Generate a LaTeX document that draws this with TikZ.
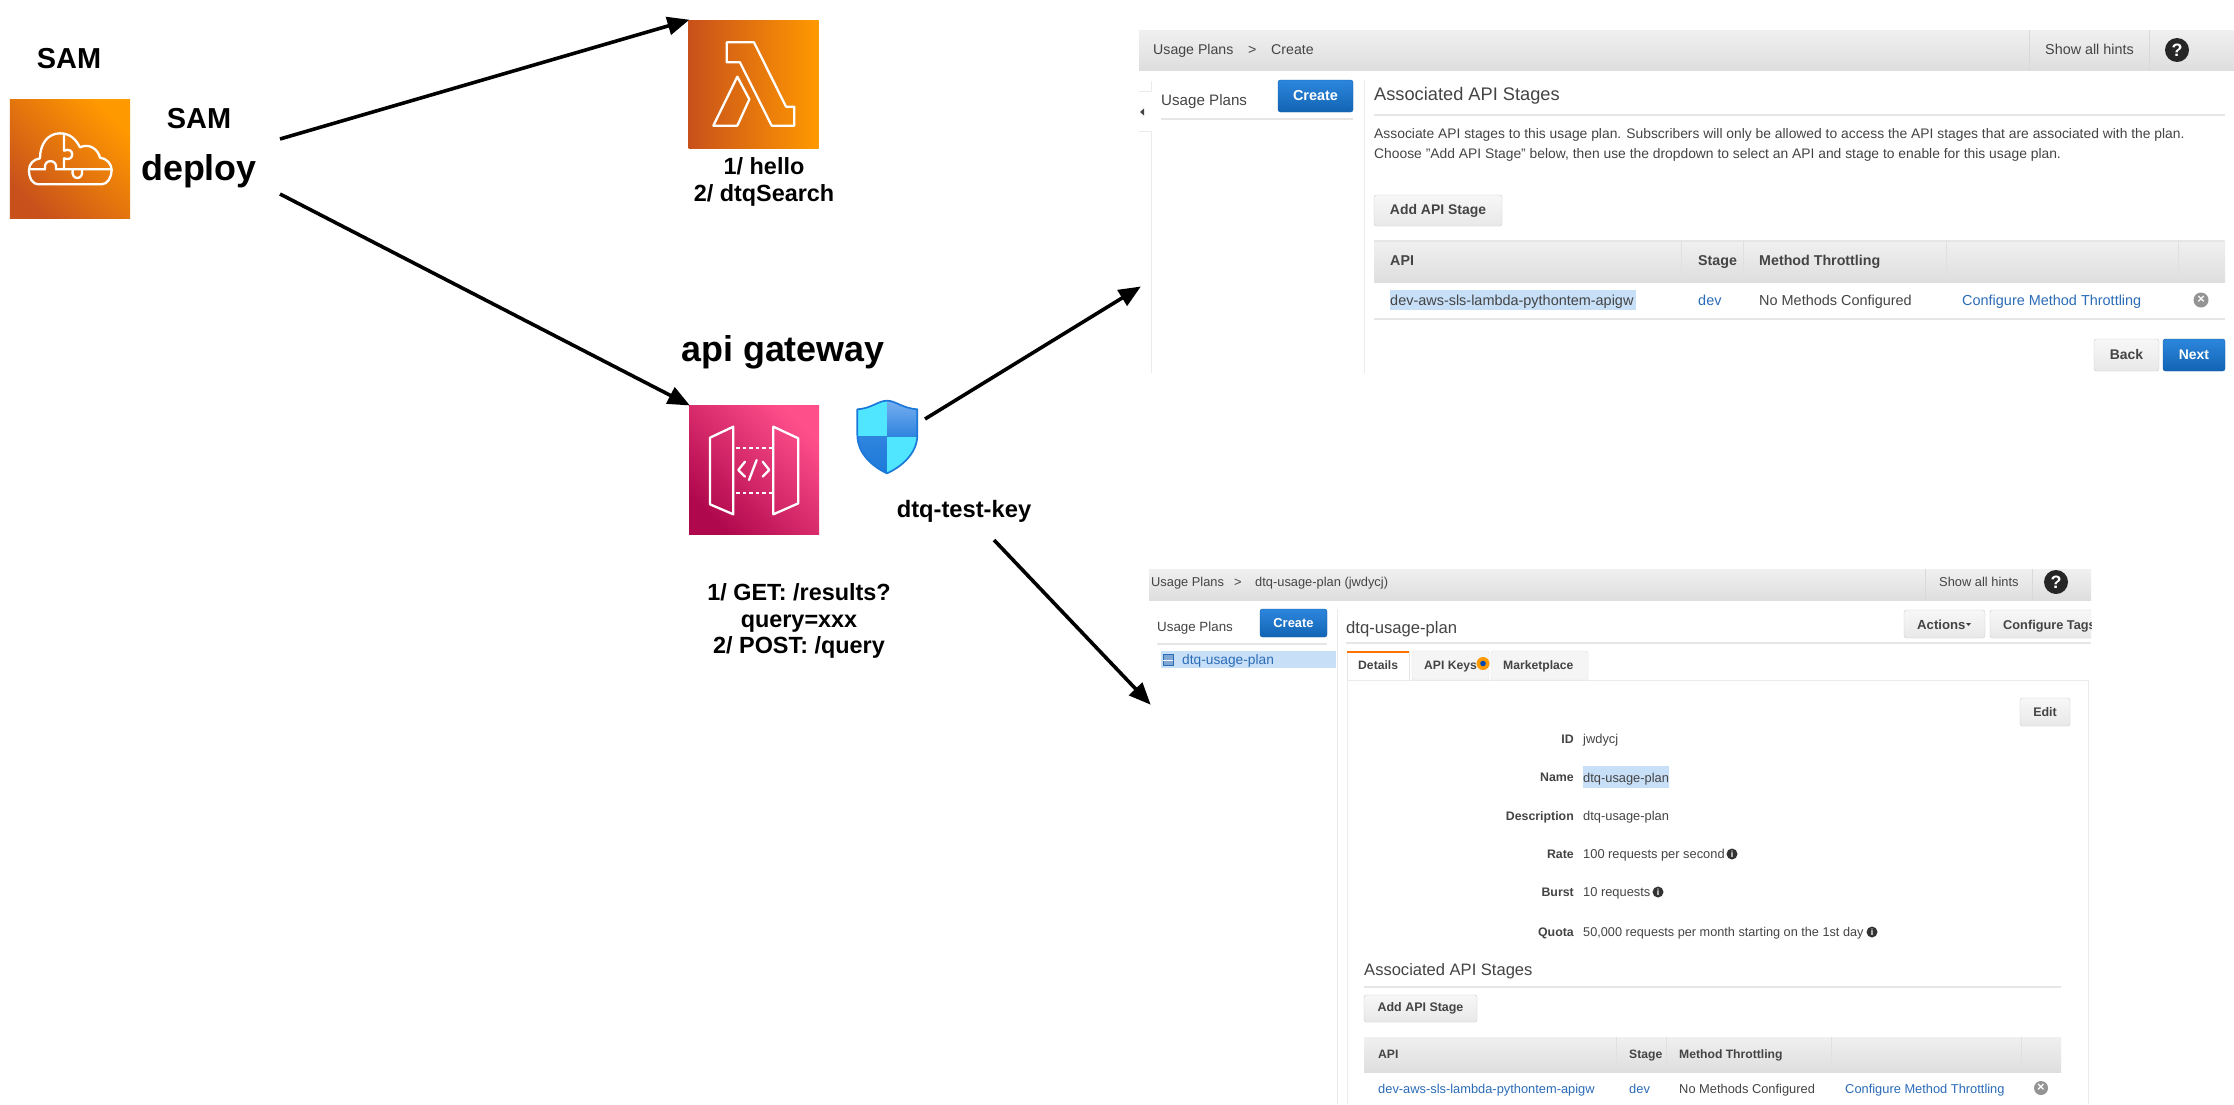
\documentclass[tikz,border=0pt]{standalone}
\usepackage{fontspec}
\setmainfont{Liberation Sans}
\usetikzlibrary{arrows.meta,shadings}
\definecolor{uitx}{HTML}{444444}
\definecolor{uilink}{HTML}{2B6CB8}
\definecolor{uirule}{HTML}{E6E6E6}
\definecolor{uiline}{HTML}{EBEBEB}
\definecolor{uisel}{HTML}{C8DFF8}
\definecolor{hdtop}{HTML}{F0F0F0}
\definecolor{hdbot}{HTML}{DEDEDE}
\definecolor{awsdark}{HTML}{C8511B}
\definecolor{awslight}{HTML}{FF9900}
\definecolor{apidark}{HTML}{B0084D}
\definecolor{apilight}{HTML}{FF4F8B}
\definecolor{shcyan}{HTML}{50E6FF}
\definecolor{shblue}{HTML}{1B78D8}
\definecolor{shmid}{HTML}{5EA0EF}
\definecolor{bluetop}{HTML}{2C86DC}
\definecolor{bluebot}{HTML}{1264B4}
\definecolor{blueedge}{HTML}{0F5AA5}
\tikzset{
  diaglabel/.style={font=\bfseries\fontsize{#1}{#1}\selectfont,align=center,inner sep=0,text=black},
  multilabel/.style={font=\bfseries\fontsize{23.5}{26.5}\selectfont,align=center,inner sep=0,text=black},
  ui/.style={anchor=west,inner sep=0,yshift=-1bp,text=uitx,text height=10,text depth=3,font=\fontsize{#1}{15}\selectfont},
  ui/.default=14.5,
  uismall/.style={ui,font=\fontsize{#1}{14}\selectfont},
  uismall/.default=12.9,
  uibold/.style={ui,font=\bfseries\fontsize{14.3}{15}\selectfont},
  uiboldsmall/.style={ui,font=\bfseries\fontsize{12.2}{14}\selectfont},
  uititle/.style={ui,yshift=-1bp,font=\fontsize{#1}{#1}\selectfont,text height=13,text depth=4},
  rowlabel/.style={ui,anchor=east,font=\bfseries\fontsize{12.4}{14}\selectfont},
  link/.style={text=uilink},
  bar/.style={top color=hdtop,bottom color=hdbot},
  sep/.style={draw=#1,line width=1},
  sep/.default=uiline,
  rulethick/.style={draw=uirule,line width=1.6},
  btn/.style={rectangle,rounded corners=2.5,draw=black!20,top color=black!3,bottom color=black!9,
    inner sep=0,text=uitx,font=\bfseries\fontsize{#1}{15}\selectfont},
  btnblue/.style={rectangle,rounded corners=2.5,draw=blueedge,top color=bluetop,bottom color=bluebot,
    inner sep=0,text=white,font=\bfseries\fontsize{#1}{15}\selectfont},
  helpmark/.style={circle,fill=black!85,text=white,inner sep=0,minimum size=24bp,font=\bfseries\fontsize{18}{18}\selectfont},
  infomark/.style={circle,fill=black!80,text=white,inner sep=0,minimum size=11bp,font=\bfseries\fontsize{9}{9}\selectfont},
  closemark/.style={circle,fill=black!42,text=white,inner sep=0,minimum size=15bp,font=\bfseries\fontsize{13}{13}\selectfont},
  awsicon/.style={rectangle,inner sep=0,outer sep=0,minimum width=#1},
  iconline/.style={draw=white,line width=2.3,line join=round,line cap=round},
  conn/.style={draw=black,line width=3.6,-{Triangle[length=22bp,width=18bp]},shorten >=-1bp},
}
\begin{document}
\begin{tikzpicture}[x=1bp,y=-1bp]
\useasboundingbox (0,0) rectangle (2234,1104);
\fill[white] (0,0) rectangle (2234,1104);

% ---- left diagram ----
\node[diaglabel=29] (samtitle) at (69,59) {SAM};
\node[awsicon=120bp,minimum height=119bp,left color=awsdark,right color=awslight,shading angle=135] (samicon) at (70,158.5) {};
\begin{scope}[shift={(0,90)},scale=1/3]
 \draw[iconline] (115,283) -- (305,283) .. controls (322,283) and (335,262) .. (335,240) .. controls (335,222) and (320,205) .. (300,203)
   .. controls (295,180) and (270,158) .. (240,172) .. controls (228,148) and (210,130) .. (180,130) .. controls (145,130) and (120,160) .. (120,205)
   .. controls (100,208) and (87,222) .. (87,240) .. controls (87,265) and (98,283) .. (115,283);
 \draw[iconline] (87,238) -- (135,238) .. controls (128,205) and (175,205) .. (168,238) -- (335,238);
 \draw[iconline] (218,240) .. controls (212,272) and (252,272) .. (246,240);
 \draw[iconline] (192,132) -- (192,182) .. controls (225,168) and (225,218) .. (192,205) -- (192,238);
\end{scope}
\node[diaglabel=29] (samdeploya) at (199,119) {SAM};
\node[diaglabel=36] (samdeployb) at (199,171) {deploy};

\node[awsicon=130bp,minimum height=128bp,left color=awsdark,right color=awslight] (lambda) at (753.5,84) {};
\begin{scope}[shift={(680,10)},scale=1/3]
 \draw[iconline] (140,97) -- (222,97) -- (318,290) -- (343,290) -- (343,347) -- (275,347) -- (180,157) -- (140,157) -- cycle;
 \draw[iconline] (172,200) -- (208,268) -- (172,347) -- (100,347) -- cycle;
\end{scope}
\node[multilabel] (lambdatext) at (764,182) {1/ hello\\2/ dtqSearch};

\node[diaglabel=36] (apititle) at (783,352) {api gateway};
\node[awsicon=130bp,minimum height=129bp,left color=apidark,right color=apilight,shading angle=135] (apigw) at (754,469.5) {};
\begin{scope}[shift={(680,395)},scale=1/3]
 \draw[iconline] (160,95) -- (90,128) -- (90,328) -- (160,358) -- cycle;
 \draw[iconline] (280,95) -- (355,130) -- (355,325) -- (280,358) -- cycle;
 \draw[iconline,dash pattern=on 3.5bp off 3bp,line cap=butt] (168,158) -- (275,158);
 \draw[iconline,dash pattern=on 3.5bp off 3bp,line cap=butt] (168,295) -- (275,295);
 \draw[iconline] (195,200) -- (175,225) -- (195,245);
 \draw[iconline] (248,200) -- (268,225) -- (248,245);
 \draw[iconline] (230,195) -- (207,255);
\end{scope}
\node[multilabel] (apitext) at (799,621) {1/ GET: /results?\\query=xxx\\2/ POST: /query};

% shield
\begin{scope}[shift={(840,390)},scale=1/3]
 \begin{scope}
  \clip (52,58) .. controls (95,55) and (115,32) .. (141,32) .. controls (167,32) and (187,55) .. (232,58) -- (232,135) .. controls (232,190) and (185,230) .. (141,250) .. controls (97,230) and (52,190) .. (52,135) -- cycle;
  \fill[shcyan] (40,20) rectangle (141,140);
  \shade[top color=shmid!80!white,bottom color=shblue!70!shmid] (141,20) rectangle (240,140);
  \shade[top color=shblue!70!shmid,bottom color=shblue] (40,140) rectangle (141,260);
  \fill[shcyan] (141,140) rectangle (240,260);
 \end{scope}
 \draw[draw=shblue,line width=1.7,line join=round] (52,58) .. controls (95,55) and (115,32) .. (141,32) .. controls (167,32) and (187,55) .. (232,58) -- (232,135) .. controls (232,190) and (185,230) .. (141,250) .. controls (97,230) and (52,190) .. (52,135) -- cycle;
\end{scope}
\node[diaglabel=23.8] (keytext) at (964,511.5) {dtq-test-key};

% ---- upper screenshot ----
\shade[bar] (1139,30) rectangle (2234,70);
\draw[sep=black!15] (2029,30) -- (2029,70);
\draw[sep=black!15] (2149,30) -- (2149,70);
\node[ui=14.2] (ua1) at (1153,50) {Usage Plans};
\node[ui=14.2] (ua2) at (1248,50) {>};
\node[ui=14.2] (ua3) at (1271,50) {Create};
\node[ui=14.4] (ua4) at (2045,50) {Show all hints};
\node[helpmark] (ua5) at (2177,50) {?};
% left edge marks
\draw[sep] (1139,91) -- (1151.5,91) -- (1151.5,81);
\draw[sep] (1139,131) -- (1151.5,131) -- (1151.5,373);
\fill[uitx] (1140,112) -- (1144,108.5) -- (1144,115.5) -- cycle;
\draw[sep] (1364,80) -- (1364,373);
\node[ui=15.2] (ub1) at (1161,101) {Usage Plans};
\node[btnblue=14.5,minimum width=75bp,minimum height=32bp] (ub2) at (1315.5,96) {Create};
\draw[rulethick] (1161,119) -- (1353,119);
\node[uititle=18.3] (uc1) at (1374,94) {Associated API Stages};
\draw[rulethick] (1374,115) -- (2225,115);
\node[ui=13.9] (uc2) at (1374,134) {Associate API stages to this usage plan. Subscribers will only be allowed to access the API stages that are associated with the plan.};
\node[ui=13.9] (uc3) at (1374,154) {Choose "Add API Stage" below, then use the dropdown to select an API and stage to enable for this usage plan.};
\node[btn=14,minimum width=128bp,minimum height=31bp] (uc4) at (1438,210.5) {Add API Stage};
\shade[bar] (1374,241) rectangle (2225,282);
\draw[rulethick] (1374,241) -- (2225,241);
\foreach \xv in {1681,1743,1946,2178} \draw[sep=black!12] (\xv,241) -- (\xv,282);
\node[uibold] (ud1) at (1390,261) {API};
\node[uibold] (ud2) at (1698,261) {Stage};
\node[uibold] (ud3) at (1759,261) {Method Throttling};
\fill[uisel] (1390,290) rectangle (1636,310);
\node[ui] (ue1) at (1390,301) {dev-aws-sls-lambda-pythontem-apigw};
\node[ui,link] (ue2) at (1698,301) {dev};
\node[ui] (ue3) at (1759,301) {No Methods Configured};
\node[ui,link] (ue4) at (1962,301) {Configure Method Throttling};
\node[closemark] (ue5) at (2201,300) {×};
\draw[rulethick] (1374,319) -- (2225,319);
\node[btn=14,minimum width=65bp,minimum height=32bp] (uf1) at (2126.5,355) {Back};
\node[btnblue=14,minimum width=62bp,minimum height=32bp] (uf2) at (2194,355) {Next};

% ---- lower screenshot ----
\begin{scope}
\clip (1140,560) rectangle (2091,1104);
\shade[bar] (1149,569) rectangle (2091,600);
\draw[sep=black!15] (1925,569) -- (1925,600);
\draw[sep=black!15] (2032,569) -- (2032,600);
\node[uismall] (la1) at (1151,582) {Usage Plans};
\node[uismall] (la2) at (1234,582) {>};
\node[uismall] (la3) at (1255,582) {dtq-usage-plan (jwdycj)};
\node[uismall] (la4) at (1939,582) {Show all hints};
\node[helpmark] (la5) at (2056,582) {?};
\node[uismall=13.4] (lb1) at (1157,627) {Usage Plans};
\node[btnblue=13,minimum width=67bp,minimum height=28bp] (lb2) at (1293.5,623) {Create};
\draw[rulethick] (1157,644) -- (1327,644);
\fill[uisel] (1161,651) rectangle (1336,668);
\node[rectangle,draw=uilink,fill=uilink!60!white,inner sep=0,minimum width=10bp,minimum height=11bp] (lb3) at (1168,660) {};
\draw[white,line width=.8] (lb3.west) -- (lb3.east);
\node[uismall=13.8,link] (lb4) at (1182,660) {dtq-usage-plan};
\draw[sep] (1337,609) -- (1337,1104);
\node[uititle=16.7] (lc1) at (1346,627) {dtq-usage-plan};
\node[btn=13,minimum width=81bp,minimum height=28bp] (lc2) at (1944.5,624) {};
\node[uibold,font=\bfseries\fontsize{13.2}{15}\selectfont] (lc2t) at (1917,625) {Actions};
\fill[uitx] (1966,623) -- (1971,623) -- (1968.5,626) -- cycle;
\node[btn=13,minimum width=110bp,minimum height=28bp] (lc3) at (2045,624) {};
\node[uibold,font=\bfseries\fontsize{12.8}{15}\selectfont] (lc3t) at (2003,625) {Configure Tags};
\draw[rulethick] (1346,643) -- (2091,643);
% panel and tabs
\draw[sep] (1347,680) -- (1347,1104);
\draw[sep] (1347,680) -- (2088,680) -- (2088,1104);
\filldraw[draw=black!10,fill=white] (1347,680) -- (1347,651) -- (1409,651) -- (1409,680);
\draw[draw=orange!90!red,line width=2,rounded corners=1] (1347,652) -- (1409,652);
\filldraw[draw=black!12,fill=black!4,rounded corners=1.5] (1412,680) -- (1412,651) -- (1489,651) -- (1489,680) -- cycle;
\filldraw[draw=black!12,fill=black!4,rounded corners=1.5] (1491,680) -- (1491,651) -- (1588,651) -- (1588,680) -- cycle;
\node[uiboldsmall] (ld1) at (1358,665) {Details};
\node[uiboldsmall] (ld2) at (1424,665) {API Keys};
\node[uiboldsmall] (ld3) at (1503,665) {Marketplace};
\fill[orange!80!yellow] (1483,663.5) circle (6.5);
\fill[blue!60!cyan!70!black] (1483,663.5) circle (2.8);
\node[btn=12.5,minimum width=50bp,minimum height=28bp] (ld4) at (2045,712) {Edit};
\node[rowlabel] (le1) at (1574,739) {ID};
\node[uismall] (le2) at (1583,739) {jwdycj};
\node[rowlabel] (le3) at (1574,777) {Name};
\fill[uisel] (1583,766) rectangle (1669,788);
\node[uismall] (le4) at (1583,778) {dtq-usage-plan};
\node[rowlabel] (le5) at (1574,816) {Description};
\node[uismall] (le6) at (1583,816) {dtq-usage-plan};
\node[rowlabel] (le7) at (1574,854) {Rate};
\node[uismall] (le8) at (1583,854) {100 requests per second};
\node[infomark] (le9) at (1732,854) {i};
\node[rowlabel] (le10) at (1574,892) {Burst};
\node[uismall] (le11) at (1583,892) {10 requests};
\node[infomark] (le12) at (1658,892) {i};
\node[rowlabel] (le13) at (1574,932) {Quota};
\node[uismall=12.75] (le14) at (1583,932) {50,000 requests per month starting on the 1st day};
\node[infomark] (le15) at (1872,932) {i};
\node[uititle=16.6] (lf1) at (1364,969) {Associated API Stages};
\draw[rulethick] (1364,987) -- (2061,987);
\node[btn=12.5,minimum width=113bp,minimum height=27bp] (lf2) at (1420.5,1008.5) {Add API Stage};
\shade[bar] (1364,1037) rectangle (2061,1072);
\foreach \xv in {1616,1666,1831,2021} \draw[sep=black!12] (\xv,1037) -- (\xv,1072);
\node[uiboldsmall] (lg1) at (1378,1054) {API};
\node[uiboldsmall] (lg2) at (1629,1054) {Stage};
\node[uiboldsmall] (lg3) at (1679,1054) {Method Throttling};
\node[uismall,link] (lh1) at (1378,1089) {dev-aws-sls-lambda-pythontem-apigw};
\node[uismall,link] (lh2) at (1629,1089) {dev};
\node[uismall] (lh3) at (1679,1089) {No Methods Configured};
\node[uismall,link] (lh4) at (1845,1089) {Configure Method Throttling};
\node[closemark,minimum size=14bp] (lh5) at (2041,1088) {×};
\end{scope}

% ---- connectors ----
\coordinate (fromdeployup) at (280,139);
\coordinate (fromdeploydown) at (280,194);
\coordinate (fromshield) at (925,419);
\coordinate (toupper) at (1140,287);
\coordinate (fromkey) at (994,540);
\coordinate (tolower) at (1150,704);
\draw[conn] (fromdeployup) -- (lambda.north west);
\draw[conn] (fromdeploydown) -- (apigw.north west);
\draw[conn] (fromshield) -- (toupper);
\draw[conn] (fromkey) -- (tolower);
\end{tikzpicture}
\end{document}
